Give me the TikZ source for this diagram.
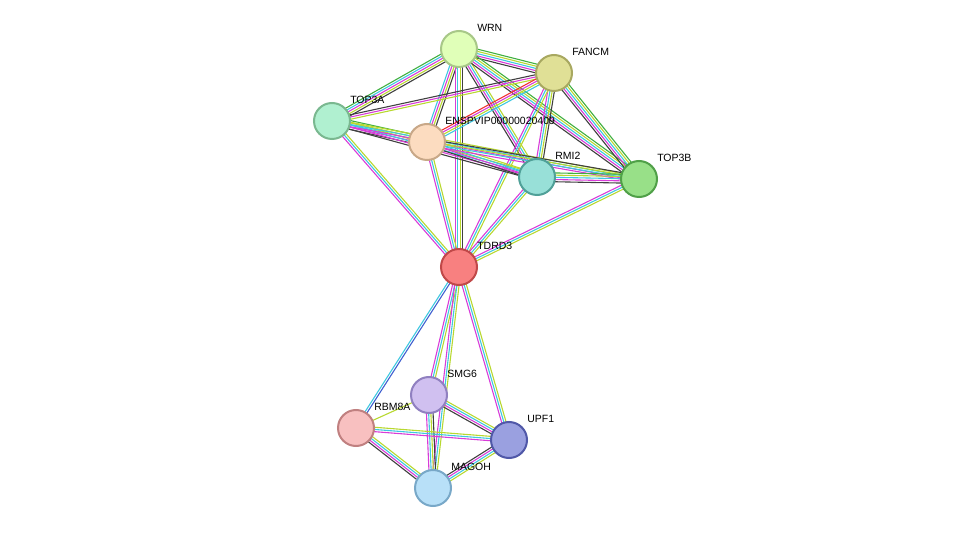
\documentclass[tikz,border=0pt]{standalone}
\usepackage{fontspec}
\setmainfont{Liberation Sans}
\usetikzlibrary{calc}
\definecolor{ecy}{HTML}{3FC8E0}
\definecolor{ema}{HTML}{D83CD8}
\definecolor{eyg}{HTML}{B8D830}
\definecolor{egr}{HTML}{40B040}
\definecolor{ebk}{HTML}{404040}
\definecolor{ebl}{HTML}{4060D0}
\definecolor{ere}{HTML}{F03030}
\tikzset{every picture/.style={line width=0.5pt}}
\tikzset{prot/.style={circle,minimum size=36pt,inner sep=0pt,line width=2pt},
  lab/.style={anchor=west,inner sep=0pt,font=\fontsize{10.5}{12}\selectfont}}
% edge: from, to, number of lines, colour list
\newcommand\strEdge[4]{%
  \foreach \c [count=\i] in {#4}{%
    \pgfmathsetmacro\o{(\i-(#3+1)/2)*2.2}
    \draw[\c,line width=1.1pt] ($(#1)!\o pt!90:(#2)$) -- ($(#2)!\o pt!-90:(#1)$);
  }}
% protein: name, fill, border, label
\newcommand\prot[4]{%
  \definecolor{pf}{HTML}{#2}\definecolor{pd}{HTML}{#3}%
  \node[prot,fill=pf,draw=pd] (#1) at (#1c) {};
  \node[lab] (#1l) at ($(#1c)+(18,-21)$) {#4};}
\begin{document}
\begin{tikzpicture}[x=1pt,y=-1pt]
\useasboundingbox (0,0) rectangle (975,534);
\coordinate (WRNc) at (459,49);
\coordinate (FANCMc) at (554,73);
\coordinate (TOPAc) at (332,121);
\coordinate (ENSc) at (427,142);
\coordinate (RMIc) at (537,177);
\coordinate (TOPBc) at (639,179);
\coordinate (TDRc) at (459,267);
\coordinate (SMGc) at (429,395);
\coordinate (RBMc) at (356,428);
\coordinate (UPFc) at (509,440);
\coordinate (MAGc) at (433,488);

\strEdge{WRNc}{FANCMc}{5}{ebk,ema,ecy,eyg,egr}
\strEdge{WRNc}{TOPAc}{5}{egr,ecy,ema,eyg,ebk}
\strEdge{WRNc}{ENSc}{4}{ecy,ema,eyg,ebk}
\strEdge{WRNc}{RMIc}{4}{ebk,ema,ecy,eyg}
\strEdge{WRNc}{TOPBc}{5}{ebk,ema,ecy,eyg,egr}
\strEdge{WRNc}{TDRc}{4}{ema,ecy,eyg,ebk}
\strEdge{FANCMc}{TOPAc}{3}{ebk,ema,eyg}
\strEdge{FANCMc}{ENSc}{4}{ere,ema,eyg,ecy}
\strEdge{FANCMc}{RMIc}{4}{ema,ecy,eyg,ebk}
\strEdge{FANCMc}{TOPBc}{5}{ebk,ema,ecy,eyg,egr}
\strEdge{FANCMc}{TDRc}{3}{ema,ecy,eyg}
\strEdge{TOPAc}{ENSc}{5}{ebk,ema,ecy,eyg,egr}
\strEdge{TOPAc}{RMIc}{4}{ebk,ema,ecy,eyg}
\strEdge{TOPAc}{TOPBc}{3}{ema,ecy,eyg}
\strEdge{TOPAc}{TDRc}{3}{ema,ecy,eyg}
\strEdge{ENSc}{RMIc}{4}{ebk,ema,ecy,eyg}
\strEdge{ENSc}{TOPBc}{4}{ema,ecy,eyg,ebk}
\strEdge{ENSc}{TDRc}{3}{ema,ecy,eyg}
\strEdge{RMIc}{TOPBc}{5}{ebk,ema,ecy,eyg,egr}
\strEdge{RMIc}{TDRc}{3}{ema,ecy,eyg}
\strEdge{TOPBc}{TDRc}{3}{ema,ecy,eyg}
\strEdge{TDRc}{SMGc}{3}{ema,ecy,eyg}
\strEdge{TDRc}{RBMc}{2}{ecy,ebl}
\strEdge{TDRc}{UPFc}{3}{ema,ecy,eyg}
\strEdge{TDRc}{MAGc}{3}{ema,ecy,eyg}
\strEdge{SMGc}{UPFc}{4}{ebk,ema,ecy,eyg}
\strEdge{SMGc}{MAGc}{4}{ema,ecy,eyg,ebk}
\strEdge{SMGc}{RBMc}{1}{eyg}
\strEdge{RBMc}{UPFc}{3}{ema,ecy,eyg}
\strEdge{RBMc}{MAGc}{4}{ebk,ema,ecy,eyg}
\strEdge{UPFc}{MAGc}{4}{ebk,ema,ecy,eyg}

\prot{WRN}{E0FFB8}{A8C888}{WRN}
\prot{FANCM}{E0E096}{A8A860}{FANCM}
\prot{TOPA}{B0F0D0}{7AB890}{TOP3A}
\prot{ENS}{FCDCC0}{C8A888}{ENSPVIP00000020409}
\prot{RMI}{98E0D8}{50A098}{RMI2}
\prot{TOPB}{98E088}{50A048}{TOP3B}
\prot{TDR}{F88080}{C04848}{TDRD3}
\prot{SMG}{D0C0F0}{9080C0}{SMG6}
\prot{RBM}{F8C0C0}{C08080}{RBM8A}
\prot{UPF}{9AA0E0}{5058A8}{UPF1}
\prot{MAG}{B8E0F8}{78A8C8}{MAGOH}
\end{tikzpicture}
\end{document}
